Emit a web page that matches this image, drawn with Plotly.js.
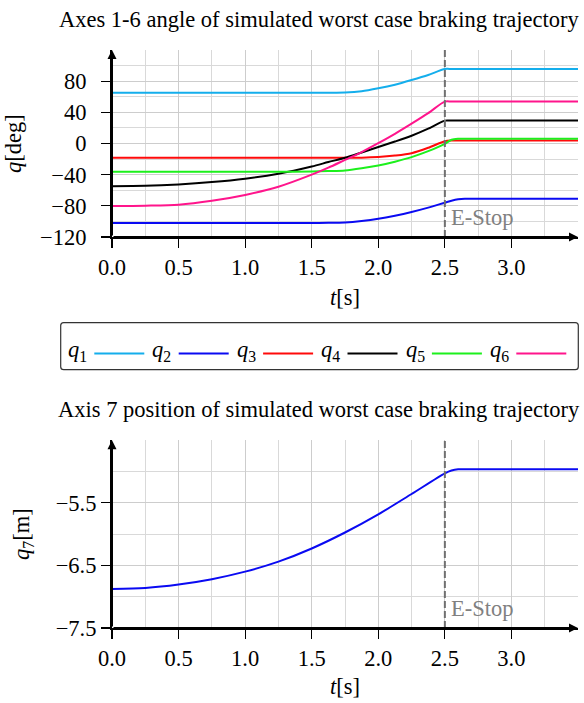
<!DOCTYPE html>
<html>
<head>
<meta charset="utf-8">
<script src="https://cdn.plot.ly/plotly-3.0.1.min.js"></script>
<style>
html,body{margin:0;padding:0;background:#fff}
#chart{width:584px;height:703px}
</style>
</head>
<body>
<div id="chart"></div>
<script>
// ---- data ----
const timeS = [0, 0.25, 0.5, 0.75, 1.0, 1.25, 1.5, 1.625, 1.75, 1.875, 2.0, 2.125, 2.25, 2.375, 2.5, 2.55, 2.6, 2.65, 2.75, 3.5];
const q1 = [65.3, 65.3, 65.3, 65.3, 65.3, 65.3, 65.3, 65.3, 65.4, 67.0, 70.8, 75.5, 81.5, 88.0, 95.6, 95.6, 95.6, 95.6, 95.6, 95.6];
const q2 = [-102, -102, -102, -102, -102, -102, -102, -101.8, -101.2, -99.3, -96.5, -92.6, -87.9, -82.3, -75.9, -73.4, -71.6, -70.8, -70.8, -70.8];
const q3 = [-18.3, -18.3, -18.3, -18.3, -18.3, -18.3, -18.3, -18.3, -18.3, -18.2, -17.4, -15.5, -12.4, -5.5, 3.0, 3.8, 3.8, 3.8, 3.8, 3.8];
const q4 = [-54.7, -54.3, -52.5, -49.5, -45.2, -38.8, -29.5, -23.8, -18.3, -11.5, -4.5, 2.5, 10.0, 19.0, 29.4, 29.4, 29.4, 29.4, 29.4, 29.4];
const q5 = [-36.2, -36.2, -36.2, -36.2, -36.2, -36.2, -35.9, -35.4, -34.6, -31.8, -28.2, -23.3, -17.4, -9.8, -0.4, 4.8, 6.0, 6.0, 6.0, 6.0];
const q6 = [-80.3, -79.8, -78.5, -73.5, -66.0, -55.5, -40.0, -31.0, -21.0, -11.0, 0.5, 12.5, 25.5, 39.0, 53.8, 53.8, 53.8, 53.8, 53.8, 53.8];
const seriesNames = ['q1', 'q2', 'q3', 'q4', 'q5', 'q6'];
const legendLabels = ['<i>q</i><sub>1</sub>', '<i>q</i><sub>2</sub>', '<i>q</i><sub>3</sub>', '<i>q</i><sub>4</sub>', '<i>q</i><sub>5</sub>', '<i>q</i><sub>6</sub>'];

const time7 = [0, 0.25, 0.5, 0.75, 1.0, 1.25, 1.5, 1.75, 2.0, 2.25, 2.5, 2.55, 2.6, 2.7, 3.5];
const q7 = [-6.877, -6.86, -6.805, -6.72, -6.60, -6.44, -6.23, -5.975, -5.685, -5.36, -5.03, -4.985, -4.965, -4.965, -4.965];

const eStopTime = [2.5];
const xTickVals = [0, 0.5, 1.0, 1.5, 2.0, 2.5, 3.0];
const yTickValsTop = [-120, -80, -40, 0, 40, 80];
const yTickValsBottom = [-7.5, -6.5, -5.5];
const titleTop = 'Axes 1-6 angle of simulated worst case braking trajectory';
const titleBottom = 'Axis 7 position of simulated worst case braking trajectory';

// ---- styling / layout ----
const colors = ['#14AEEC', '#0A0AF2', '#FF0A0A', '#000000', '#1CF01C', '#FF158C'];
const W = 584, H = 703, ML = 112, MR = 6, MT = 49.5, MB = 75;
const PW = W - ML - MR, PH = H - MT - MB;
function px(xp) { return (xp - ML) / PW; }
function py(yp) { return (H - MB - yp) / PH; }
const FS = 22.5;
function F(color) { return {family: 'Liberation Serif', size: FS, color: color || '#000000'}; }

const ys = [q1, q2, q3, q4, q5, q6];
const traces = ys.map((arr, i) => ({
  x: timeS, y: arr, type: 'scatter', mode: 'lines', name: seriesNames[i],
  xaxis: 'x', yaxis: 'y', line: {color: colors[i], width: 2, shape: 'spline', smoothing: 0.8}, showlegend: false
}));
traces.push({
  x: time7, y: q7, type: 'scatter', mode: 'lines', name: 'q7',
  xaxis: 'x2', yaxis: 'y2', line: {color: colors[1], width: 2, shape: 'spline', smoothing: 0.8}, showlegend: false
});

function xAx(anchor, titleStandoff) {
  return {
    domain: [0, 1], anchor: anchor, range: [0, 3.5],
    tickmode: 'array', tickvals: xTickVals, tickformat: '.1f',
    ticks: 'outside', ticklen: 9, tickwidth: 1.2, tickcolor: '#000',
    showline: true, linewidth: 2, linecolor: '#000',
    showgrid: true, gridcolor: '#cdcdcd', gridwidth: 1,
    minor: {tickmode: 'linear', tick0: 0, dtick: 0.25, showgrid: true, gridcolor: '#d9d9d9', gridwidth: 1, ticks: ''},
    zeroline: false, tickfont: F(),
    title: {text: '<i>t</i>[s]', font: F(), standoff: titleStandoff}
  };
}
function xIn(over, anchor) {
  return {overlaying: over, anchor: anchor, range: [0, 3.5], tickmode: 'array', tickvals: xTickVals,
    ticks: 'inside', ticklen: 9, tickwidth: 1.2, tickcolor: '#000', showticklabels: false,
    showgrid: false, zeroline: false, showline: false};
}
function yIn(over, anchor, range, vals) {
  return {overlaying: over, anchor: anchor, range: range, tickmode: 'array', tickvals: vals,
    ticks: 'inside', ticklen: 9, tickwidth: 1.2, tickcolor: '#000', showticklabels: false,
    showgrid: false, zeroline: false, showline: false};
}

const topDom = [py(236.7), py(49.5)];
const botDom = [py(628), py(440)];

const layout = {
  width: W, height: H,
  margin: {l: ML, r: MR, t: MT, b: MB, pad: 0},
  paper_bgcolor: '#fff', plot_bgcolor: '#fff',
  font: F(), showlegend: false,
  xaxis: xAx('y', 10),
  xaxis2: xAx('y2', 8),
  xaxis3: xIn('x', 'y'),
  xaxis4: xIn('x2', 'y2'),
  yaxis: {
    domain: topDom, anchor: 'x', range: [-120, 120],
    tickmode: 'array', tickvals: yTickValsTop,
    ticks: 'outside', ticklen: 9, tickwidth: 1.2, tickcolor: '#000',
    showline: true, linewidth: 2, linecolor: '#000',
    showgrid: true, gridcolor: '#cdcdcd', gridwidth: 1,
    minor: {tickmode: 'linear', tick0: -120, dtick: 20, showgrid: true, gridcolor: '#d9d9d9', gridwidth: 1, ticks: ''},
    zeroline: false, tickfont: F(), ticklabelstandoff: 10,
    title: {text: '<i>q</i>[deg]', font: F(), standoff: 12}
  },
  yaxis2: {
    domain: botDom, anchor: 'x2', range: [-7.5, -4.5],
    tickmode: 'array', tickvals: yTickValsBottom,
    ticks: 'outside', ticklen: 9, tickwidth: 1.2, tickcolor: '#000',
    showline: true, linewidth: 2, linecolor: '#000',
    showgrid: true, gridcolor: '#cdcdcd', gridwidth: 1,
    minor: {tickmode: 'linear', tick0: -7.5, dtick: 0.5, showgrid: true, gridcolor: '#d9d9d9', gridwidth: 1, ticks: ''},
    zeroline: false, tickfont: F(), ticklabelstandoff: 0,
    title: {text: '<i>q</i><sub>7</sub>[m]', font: F(), standoff: 20}
  },
  yaxis3: yIn('y', 'x', [-120, 120], yTickValsTop),
  yaxis4: yIn('y2', 'x2', [-7.5, -4.5], yTickValsBottom),
  shapes: [],
  annotations: []
};

// E-Stop dashed lines + labels
[['x', 'y'], ['x2', 'y2']].forEach(([xa, ya]) => {
  layout.shapes.push({type: 'line', xref: xa, yref: ya + ' domain', x0: eStopTime[0], x1: eStopTime[0], y0: 0, y1: 1,
    line: {color: '#707070', width: 2, dash: '7px,3px'}, layer: 'above'});
  layout.annotations.push({xref: xa, yref: ya + ' domain', x: eStopTime[0], y: 0.106, xanchor: 'left', yanchor: 'middle',
    xshift: 4, text: 'E-Stop', showarrow: false, font: F('#808080')});
});

// axis arrows
[['x', 'y', -120, 120], ['x2', 'y2', -7.5, -4.5]].forEach(([xa, ya, y0, y1]) => {
  layout.annotations.push({xref: xa, yref: ya, axref: xa, ayref: ya, x: 0, y: y1, ax: 0, ay: y0, text: '',
    showarrow: true, arrowhead: 2, arrowsize: 0.9, arrowwidth: 2, arrowcolor: '#000', standoff: 0});
  layout.annotations.push({xref: xa, yref: ya, axref: xa, ayref: ya, x: 3.5, y: y0, ax: 0, ay: y0, text: '',
    showarrow: true, arrowhead: 2, arrowsize: 0.9, arrowwidth: 2, arrowcolor: '#000', standoff: 0});
});

// titles
layout.annotations.push({xref: 'paper', yref: 'paper', x: px(319), y: py(18.5), xanchor: 'center', yanchor: 'middle',
  text: titleTop, showarrow: false, font: F()});
layout.annotations.push({xref: 'paper', yref: 'paper', x: px(319), y: py(409.5), xanchor: 'center', yanchor: 'middle',
  text: titleBottom, showarrow: false, font: F()});

// legend box (rounded)
(function () {
  const L = 60.7, R = 578.3, T = 322.3, B = 369.5, r = 3;
  const P = (a, b) => px(a) + ',' + py(b);
  const path = 'M ' + P(L + r, T) + ' L ' + P(R - r, T) + ' Q ' + P(R, T) + ' ' + P(R, T + r) +
    ' L ' + P(R, B - r) + ' Q ' + P(R, B) + ' ' + P(R - r, B) + ' L ' + P(L + r, B) +
    ' Q ' + P(L, B) + ' ' + P(L, B - r) + ' L ' + P(L, T + r) + ' Q ' + P(L, T) + ' ' + P(L + r, T) + ' Z';
  layout.shapes.push({type: 'path', xref: 'paper', yref: 'paper', path: path, line: {color: '#333', width: 1.2}, fillcolor: 'rgba(0,0,0,0)'});
  for (let i = 0; i < legendLabels.length; i++) {
    const x0 = 66 + i * 84.4;
    layout.annotations.push({xref: 'paper', yref: 'paper', x: px(x0), y: py(351), xanchor: 'left', yanchor: 'middle',
      text: legendLabels[i], showarrow: false, font: F()});
    layout.shapes.push({type: 'line', xref: 'paper', yref: 'paper', x0: px(94.3 + i * 84.4), x1: px(144.3 + i * 84.4),
      y0: py(353.3), y1: py(353.3), line: {color: colors[i], width: 2}});
  }
})();

Plotly.newPlot('chart', traces, layout, {displayModeBar: false, staticPlot: true});
</script>
</body>
</html>
